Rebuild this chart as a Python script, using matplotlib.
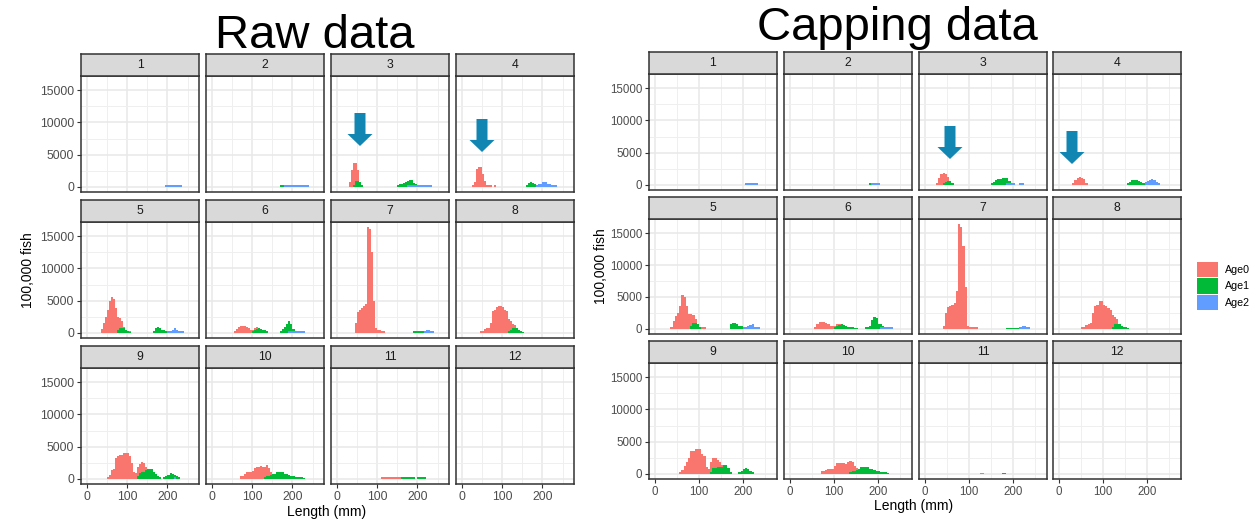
import numpy as np
import matplotlib
matplotlib.use("Agg")
import matplotlib.pyplot as plt
from matplotlib.patches import Polygon, Patch

plt.rcParams['font.family'] = ['Liberation Sans', 'DejaVu Sans']

W, H = 1260, 522
BIN = 5  # histogram bin width (mm)

panels = list(range(1, 13))
ages = ['Age0', 'Age1', 'Age2']
age_colors = ['#F8766D', '#00BA38', '#619CFF']
x_ticks = [0, 100, 200]
y_ticks = [0, 5000, 10000, 15000]

# panel -> list of (start of first bin in mm, counts per 5 mm bin)
raw_age0 = {
    3: [(30, [700, 2600, 3700, 3700, 2600, 500])],
    4: [(25, [300, 700, 2800, 3000, 3000, 2000, 900, 300, 300, 200]), (80, [200])],
    5: [(35, [600, 1500, 2500, 3600, 5000, 5500, 5300, 3800, 2400, 2300, 1800, 900, 500, 300, 200])],
    6: [(55, [300, 600, 900, 1000, 1100, 1000, 900, 700, 500, 500, 700, 900, 700, 300])],
    7: [(45, [1500, 3300, 3600, 3800, 4200, 4500, 16400, 16200, 12500, 5000, 800, 400, 400, 300, 300])],
    8: [(45, [300, 300, 600, 800, 800, 1500, 3400, 3600, 4000, 4200, 4200, 4000, 3500, 3400,
              2200, 1900, 1400, 1200, 700, 400, 200])],
    9: [(50, [300, 600, 1400, 1500, 3200, 3500, 3700, 3700, 4000, 4000, 4000, 3600, 2500, 1000,
              900, 1800, 2300, 2600, 2400, 1900, 1400, 1000, 400])],
    10: [(70, [500, 500, 800, 1100, 1100, 1100, 1200, 1700, 1800, 1800, 2000, 1900, 1800, 2100,
               1600, 1100, 500])],
    11: [(110, [200] * 10)],
}
raw_age1 = {
    2: [(170, [250, 250])],
    3: [(40, [300, 900, 900, 700, 200]),
        (150, [200, 400, 500, 600, 800, 900, 1000, 1000, 600, 400, 300, 200])],
    4: [(160, [300, 600, 700, 600, 400, 300])],
    5: [(75, [500, 800, 800, 700, 400, 200, 100]), (165, [200, 800, 900, 700, 500, 400, 300, 200])],
    6: [(100, [300, 500, 600, 700, 600, 500, 400, 300]), (170, [300, 600, 900, 1300, 1800, 1400, 600, 300])],
    7: [(190, [200] * 5)],
    8: [(115, [200, 400, 700, 800, 700, 400, 300, 100])],
    9: [(125, [400, 900, 1000, 1100, 1300, 1500, 1500, 1500, 1000, 800, 400, 200]),
        (190, [300, 400, 600, 900, 800, 600, 400, 300])],
    10: [(130, [300, 400, 500, 600, 700, 800, 1000, 1100, 1100, 1000, 800, 700, 600, 500, 400,
                300, 300, 200, 200, 100])],
    11: [(160, [250] * 7), (200, [250] * 4)],
}
raw_age2 = {
    1: [(195, [250] * 8)],
    2: [(180, [250] * 12)],
    3: [(175, [300] * 12)],
    4: [(185, [300, 400, 500, 700, 700, 500, 400, 300, 200, 200])],
    5: [(200, [300, 300, 500, 800, 400, 300, 300, 200])],
    6: [(190, [250] * 8)],
    7: [(215, [300, 500, 400, 300, 200])],
    9: [(215, [200])],
}

cap_age0 = {
    3: [(25, [300, 1000, 1600, 1800, 1700, 1200, 400])],
    4: [(30, [300, 800, 1100, 1200, 1100, 900, 300])],
    5: [(35, [300, 1200, 2000, 2500, 3600, 5300, 5000, 3500, 2300, 2300, 2200, 1500, 700, 300, 300, 200])],
    6: [(55, [300, 700, 1000, 1100, 1000, 900, 700, 500, 400, 500, 700, 800, 700, 300, 100])],
    7: [(40, [500, 2500, 3400, 3600, 3700, 4000, 6000, 16400, 16000, 13000, 6500, 500, 300, 200, 200, 200])],
    8: [(50, [300, 300, 600, 800, 900, 2500, 3600, 3800, 4300, 4300, 3800, 3600, 3200, 3000,
              2200, 1800, 1600, 700, 400, 300, 200])],
    9: [(55, [300, 600, 1200, 1800, 2500, 3500, 3600, 3800, 3900, 3900, 3000, 2800, 1000, 800,
              1800, 2500, 2400, 2100, 1800, 1300, 600])],
    10: [(70, [400, 500, 600, 700, 700, 700, 1200, 1600, 1700, 1700, 1600, 1500, 1900, 2000,
               1800, 1200, 900, 400])],
    11: [(125, [100, 100])],
}
cap_age1 = {
    2: [(180, [200])],
    3: [(40, [200, 500, 600, 600, 200]), (150, [200, 500, 700, 900, 900, 1000, 1100, 1000, 600, 300])],
    4: [(155, [200, 500, 700, 800, 800, 600, 400, 300, 200])],
    5: [(80, [500, 900, 900, 700, 300]), (170, [800, 900, 900, 700, 500, 400, 200])],
    6: [(100, [300, 500, 600, 700, 600, 400, 300, 200, 200, 100, 100]),
        (170, [300, 300, 500, 1300, 1800, 1700, 800, 800, 500])],
    7: [(185, [150] * 6)],
    8: [(120, [300, 700, 800, 700, 500, 300, 200, 100])],
    9: [(125, [200, 900, 900, 1000, 1000, 1100, 1400, 1400, 900, 300]),
        (190, [200, 400, 800, 900, 700, 500, 200])],
    10: [(135, [300, 500, 500, 600, 800, 1000, 1100, 1100, 1000, 800, 700, 600, 500, 400, 300,
                300, 200, 100])],
    11: [(175, [150, 150])],
}
cap_age2 = {
    1: [(205, [200] * 6)],
    2: [(185, [200] * 4)],
    3: [(185, [300] * 4), (215, [200, 200])],
    4: [(195, [400, 600, 800, 900, 800, 500, 200])],
    5: [(200, [300, 300, 400, 600, 700, 300, 300, 200])],
    6: [(205, [250] * 6)],
    7: [(215, [300, 500, 500, 300, 200])],
}

ARROW = '#1186b3'
raw_arrows = [(360, 113, 146), (482, 119, 152)]   # centre x, top, tip (pixels)
cap_arrows = [(950, 126, 159), (1072, 131, 164)]


def fx(x):
    return x / W


def fy(y):
    return 1 - y / H


def draw_facets(fig, data, lefts, width, rows, tick_fs):
    for i, p in enumerate(panels):
        r, c = divmod(i, 4)
        st, sb, pb = rows[r]
        x0 = lefts[c]
        ax = fig.add_axes([fx(x0), fy(pb), width / W, (pb - sb) / H])
        strip = fig.add_axes([fx(x0), fy(sb), width / W, (sb - st) / H])

        for age_data, col in zip(data, age_colors):
            for start, counts in age_data.get(p, []):
                edges = start + BIN * np.arange(len(counts) + 1)
                ax.stairs(counts, edges, fill=True, color=col, linewidth=0)

        ax.set_xlim(-14, 278)
        ax.set_ylim(-820, 17220)
        ax.set_xticks(x_ticks)
        ax.set_yticks(y_ticks)
        ax.set_xticks([50, 150, 250], minor=True)
        ax.set_yticks([2500, 7500, 12500], minor=True)
        ax.grid(which='major', color='#E8E8E8', linewidth=1.1)
        ax.grid(which='minor', color='#EFEFEF', linewidth=0.7)
        ax.set_axisbelow(True)
        ax.tick_params(which='minor', length=0)
        ax.tick_params(which='major', length=3, width=0.8, color='#333333',
                       labelcolor='#4D4D4D', labelsize=tick_fs, pad=2)
        if c != 0:
            ax.tick_params(axis='y', length=0, labelleft=False)
        if r != 2:
            ax.tick_params(axis='x', length=0, labelbottom=False)
        for s in ax.spines.values():
            s.set_color('#333333')
            s.set_linewidth(1.1)

        strip.set_facecolor('#D9D9D9')
        strip.set_xticks([])
        strip.set_yticks([])
        for s in strip.spines.values():
            s.set_color('#333333')
            s.set_linewidth(1.1)
        strip.text(0.5, 0.5, str(p), ha='center', va='center', fontsize=8.8,
                   color='#1A1A1A', transform=strip.transAxes)


def add_arrow(fig, cx, top, tip, shaft=11, head=25, head_len=12):
    pts = [(cx - shaft / 2, top), (cx + shaft / 2, top), (cx + shaft / 2, tip - head_len),
           (cx + head / 2, tip - head_len), (cx, tip), (cx - head / 2, tip - head_len),
           (cx - shaft / 2, tip - head_len)]
    poly = Polygon([(fx(x), fy(y)) for x, y in pts], closed=True, facecolor=ARROW,
                   edgecolor='none', transform=fig.transFigure, zorder=10)
    fig.add_artist(poly)


fig = plt.figure(figsize=(W / 100, H / 100), dpi=100)

# raw data block
draw_facets(fig, [raw_age0, raw_age1, raw_age2],
            lefts=[81, 206, 331, 456], width=118,
            rows=[(54, 76, 192), (200, 222, 338), (346, 368, 484)], tick_fs=8.8)
fig.text(fx(315), fy(36), 'Raw data', fontsize=34, ha='center', va='center')
fig.text(fx(28), fy(270), '100,000 fish', rotation=90, fontsize=10, ha='center', va='center')
fig.text(fx(327), fy(512), 'Length (mm)', fontsize=10, ha='center', va='center')

# capping data block
draw_facets(fig, [cap_age0, cap_age1, cap_age2],
            lefts=[649, 784, 919, 1053], width=128,
            rows=[(52, 74, 190), (197, 219, 334), (341, 363, 479)], tick_fs=8.3)
fig.text(fx(897), fy(28), 'Capping data', fontsize=34, ha='center', va='center')
fig.text(fx(601), fy(266), '100,000 fish', rotation=90, fontsize=10, ha='center', va='center')
fig.text(fx(914), fy(506), 'Length (mm)', fontsize=10, ha='center', va='center')

for cx, top, tip in raw_arrows + cap_arrows:
    add_arrow(fig, cx, top, tip)

handles = [Patch(facecolor=c, edgecolor='none') for c in age_colors]
fig.legend(handles, ages, loc='center left', bbox_to_anchor=(fx(1197), fy(286)),
           frameon=False, fontsize=7.7, handlelength=2.0, handleheight=1.85,
           labelspacing=0.1, handletextpad=0.6, borderaxespad=0, borderpad=0)

fig.savefig('out.png', dpi=100)
